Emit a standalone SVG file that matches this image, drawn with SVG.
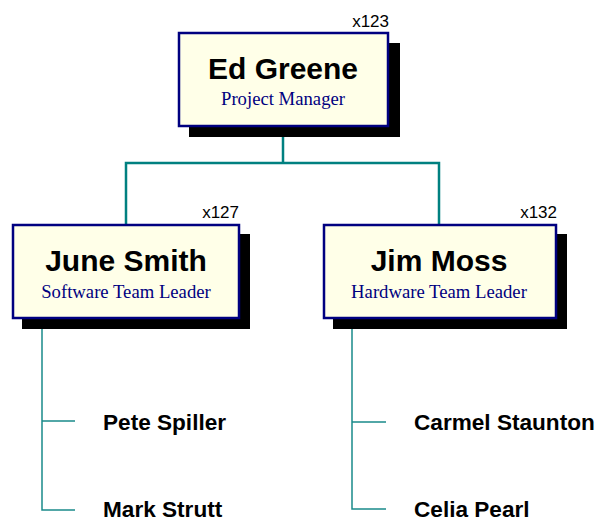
<svg xmlns="http://www.w3.org/2000/svg" width="597" height="522" viewBox="0 0 597 522">
  <style>
    .shadow { fill: #000000; }
    .box { fill: #FFFFE8; stroke: #000080; stroke-width: 2.5; }
    .name { font-family: "Liberation Sans", Arial, sans-serif; font-weight: bold; font-size: 30px; fill: #000000; text-anchor: middle; }
    .role { font-family: "Liberation Serif", "Times New Roman", serif; font-size: 18.7px; fill: #000080; text-anchor: middle; }
    .ext { font-family: "Liberation Sans", Arial, sans-serif; font-size: 17px; fill: #000000; text-anchor: end; }
    .member { font-family: "Liberation Sans", Arial, sans-serif; font-weight: bold; font-size: 22.6px; fill: #000000; }
    .link { fill: none; stroke: #008080; stroke-width: 2.5; }
    .branch { fill: none; stroke: #1A8A8A; stroke-width: 1.5; }
  </style>

  <!-- connectors -->
  <g id="connectors">
    <path class="link" d="M283,127 V163 M126,224 V163 H439 V224"/>
    <path class="branch" d="M42,319 V510 H75 M42,421 H75"/>
    <path class="branch" d="M352,319 V509 H386 M352,422 H386"/>
  </g>

  <!-- manager -->
  <g id="ed-greene">
    <rect class="shadow" x="189" y="43" width="211" height="94"/>
    <rect class="box" x="179" y="33" width="209" height="93"/>
    <text class="name" x="283" y="79">Ed Greene</text>
    <text class="role" x="283" y="105">Project Manager</text>
    <text class="ext" x="389" y="27">x123</text>
  </g>

  <!-- team leaders -->
  <g id="june-smith">
    <rect class="shadow" x="22" y="234" width="228" height="95"/>
    <rect class="box" x="13" y="225" width="226" height="93"/>
    <text class="name" x="126" y="271">June Smith</text>
    <text class="role" x="126" y="298">Software Team Leader</text>
    <text class="ext" x="239" y="218">x127</text>
  </g>

  <g id="jim-moss">
    <rect class="shadow" x="333" y="234" width="234" height="95"/>
    <rect class="box" x="324" y="225" width="232" height="93"/>
    <text class="name" x="439" y="271">Jim Moss</text>
    <text class="role" x="439" y="298">Hardware Team Leader</text>
    <text class="ext" x="557" y="218">x132</text>
  </g>

  <!-- team members -->
  <g id="pete-spiller"><text class="member" x="103" y="430">Pete Spiller</text></g>
  <g id="mark-strutt"><text class="member" x="103" y="517">Mark Strutt</text></g>
  <g id="carmel-staunton"><text class="member" x="414" y="430">Carmel Staunton</text></g>
  <g id="celia-pearl"><text class="member" x="414" y="517">Celia Pearl</text></g>
</svg>
